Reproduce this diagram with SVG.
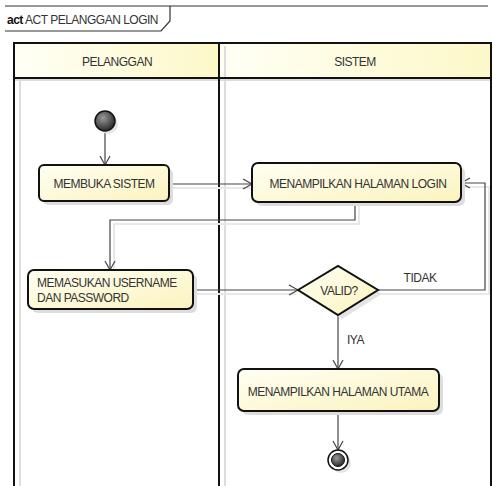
<svg xmlns="http://www.w3.org/2000/svg" width="493" height="486" viewBox="0 0 493 486">
<style>
text{font-family:"Liberation Sans",Arial,sans-serif;font-size:12px;fill:#333;letter-spacing:-0.5px}
.lane{fill:none;stroke:#111;stroke-width:2}
.inner{stroke:#ddd;stroke-width:2;fill:none}
.act{fill:url(#actg);stroke:#111;stroke-width:2}
.sh{fill:#ddd}
.con{fill:none;stroke:#444;stroke-width:1.2;marker-end:url(#arr)}
.conSh{fill:none;stroke:#e8e8e8;stroke-width:2}
</style>
<defs>
<linearGradient id="actg" x1="0" y1="0" x2="1" y2="1">
<stop offset="0" stop-color="#fffff4"/>
<stop offset="1" stop-color="#fbf3bd"/>
</linearGradient>
<linearGradient id="hdr" x1="0" y1="0" x2="1" y2="0">
<stop offset="0" stop-color="#fffff6"/>
<stop offset="1" stop-color="#fdf8c8"/>
</linearGradient>
<radialGradient id="dark" cx="0.4" cy="0.35" r="0.7">
<stop offset="0" stop-color="#999"/>
<stop offset="1" stop-color="#222"/>
</radialGradient>
<marker id="arr" markerWidth="12" markerHeight="12" refX="10" refY="6" orient="auto" markerUnits="userSpaceOnUse">
<path d="M1,1 L10,6 L1,11" fill="none" stroke="#444" stroke-width="1.2"/>
</marker>
</defs>
<rect width="493" height="486" fill="#fff"/>

<g id="frame">
<path d="M5,6 H488" stroke="#333" stroke-width="1.2" fill="none"/>
<path d="M5,31 H161 L170,21 V6" stroke="#333" stroke-width="1.2" fill="none"/>
<text x="7" y="24"><tspan font-weight="bold" fill="#111">act</tspan> ACT PELANGGAN LOGIN</text>
</g>

<g id="lane-pelanggan">
<rect x="14" y="43" width="205" height="35" fill="url(#hdr)"/>
<line class="inner" x1="20" y1="80" x2="20" y2="486"/>
<line class="inner" x1="15" y1="80" x2="219" y2="80"/>
<text x="117" y="66" text-anchor="middle">PELANGGAN</text>
</g>
<g id="lane-sistem">
<rect x="219" y="43" width="272" height="35" fill="url(#hdr)"/>
<line class="inner" x1="225" y1="80" x2="225" y2="486"/>
<line class="inner" x1="225" y1="46" x2="225" y2="77"/>
<line class="inner" x1="220" y1="80" x2="490" y2="80"/>
<text x="355" y="66" text-anchor="middle">SISTEM</text>
</g>
<g id="lanes">
<path class="lane" d="M14,490 V43 H491 V490 M14,78 H491 M219,43 V490"/>
</g>

<g id="connectors">
<path class="con" d="M105,131 V165"/>
<path class="conSh" d="M172,188 H250"/>
<path class="con" d="M169,184 H252"/>
<path class="conSh" d="M359,204 V224 H114 V268"/>
<path class="con" d="M355,202 V220 H110 V270"/>
<path class="conSh" d="M196,294 H296"/>
<path class="con" d="M193,290 H298"/>
<path class="conSh" d="M380,294 H489 V187 H464"/>
<path class="con" d="M378,290 H485 V183 H461"/>
<path class="con" d="M338,315 V369"/>
<path class="con" d="M338,411 V450"/>
<text x="420" y="282" text-anchor="middle">TIDAK</text>
<text x="347" y="344">IYA</text>
</g>

<g id="initial">
<circle cx="108" cy="124" r="10" fill="#e4e4e4"/>
<circle cx="105" cy="121" r="10" fill="url(#dark)" stroke="#111" stroke-width="1.5"/>
</g>

<g id="membuka-sistem">
<rect class="sh" x="43" y="169" width="130" height="36" rx="5"/>
<rect class="act" x="39" y="165" width="130" height="36" rx="5"/>
<text x="104" y="188" text-anchor="middle">MEMBUKA SISTEM</text>
</g>

<g id="menampilkan-login">
<rect class="sh" x="256" y="167" width="209" height="39" rx="6"/>
<rect class="act" x="252" y="163" width="209" height="39" rx="6"/>
<text x="358" y="188" text-anchor="middle">MENAMPILKAN HALAMAN LOGIN</text>
</g>

<g id="memasukan">
<rect class="sh" x="32" y="274" width="165" height="39" rx="6"/>
<rect class="act" x="28" y="270" width="165" height="39" rx="6"/>
<text x="37" y="287">MEMASUKAN USERNAME</text>
<text x="37" y="302">DAN PASSWORD</text>
</g>

<g id="valid">
<path d="M302,294 L342,270 L382,294 L342,319 Z" fill="#e4e4e4"/>
<path d="M298,290 L338,266 L378,290 L338,315 Z" fill="url(#actg)" stroke="#111" stroke-width="2"/>
<text x="339" y="295" text-anchor="middle">VALID?</text>
</g>

<g id="menampilkan-utama">
<rect class="sh" x="242" y="373" width="201" height="42" rx="6"/>
<rect class="act" x="238" y="369" width="201" height="42" rx="6"/>
<text x="338" y="396" text-anchor="middle">MENAMPILKAN HALAMAN UTAMA</text>
</g>

<g id="final">
<circle cx="341" cy="463" r="10" fill="#e4e4e4"/>
<circle cx="338" cy="460" r="10" fill="#fff" stroke="#111" stroke-width="1.5"/>
<circle cx="338" cy="460" r="6.5" fill="url(#dark)" stroke="#111" stroke-width="1"/>
</g>
</svg>
